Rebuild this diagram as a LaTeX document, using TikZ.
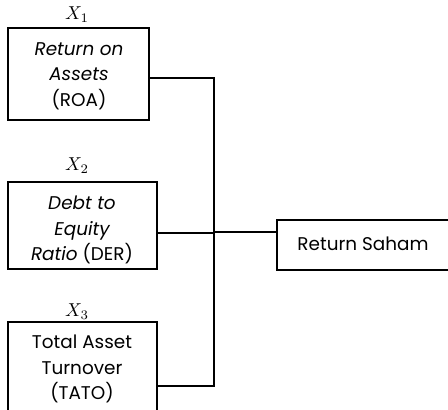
\documentclass[tikz,border=0pt]{standalone}
\usepackage{fontspec}
\setmainfont{Poppins}
\begin{document}
\begin{tikzpicture}[x=0.75pt,y=-0.75pt,
  box/.style={draw,line width=1.1pt,inner sep=0pt},
  txt/.style={inner sep=0pt,align=center,font=\fontsize{13.8}{19}\selectfont},
  lbl/.style={inner sep=0pt},
  conn/.style={line width=1.1pt}]
\useasboundingbox (0,0) rectangle (448,409);
\clip (0,0) rectangle (448,409);
\node[box,minimum width=141*0.75pt,minimum height=92*0.75pt] (b1) at (78.5,74) {};
\node[box,minimum width=149*0.75pt,minimum height=87*0.75pt] (b2) at (82.5,225.5) {};
\node[box,minimum width=149*0.75pt,minimum height=96*0.75pt] (b3) at (82.5,370) {};
\node[box,minimum width=175*0.75pt,minimum height=50*0.75pt] (rs) at (364.5,245) {};
\node[txt] (t1) at (79,76) {\itshape Return on\\\itshape Assets\\(ROA)};
\node[txt] (t2) at (82,230) {\itshape Debt to\\\itshape Equity\\{\itshape Ratio} (DER)};
\node[txt] (t3) at (82,369) {Total Asset\\Turnover\\(TATO)};
\node[txt] (trs) at (363,244) {Return Saham};
\node[lbl] (x1) at (77,15) {\scalebox{1.4}{$X_1$}};
\node[lbl] (x2) at (77,166) {\scalebox{1.4}{$X_2$}};
\node[lbl] (x3) at (77,312) {\scalebox{1.4}{$X_3$}};
\coordinate (j1) at (214,78);
\coordinate (j2) at (214,233);
\coordinate (j3) at (214,386);
\coordinate (jr) at (214,232);
\draw[conn] (b1.east|-j1) -- (j1) -- (j3) -- (b3.east|-j3);
\draw[conn] (b2.east|-j2) -- (j2);
\draw[conn] (jr) -- (rs.west|-jr);
\end{tikzpicture}
\end{document}
